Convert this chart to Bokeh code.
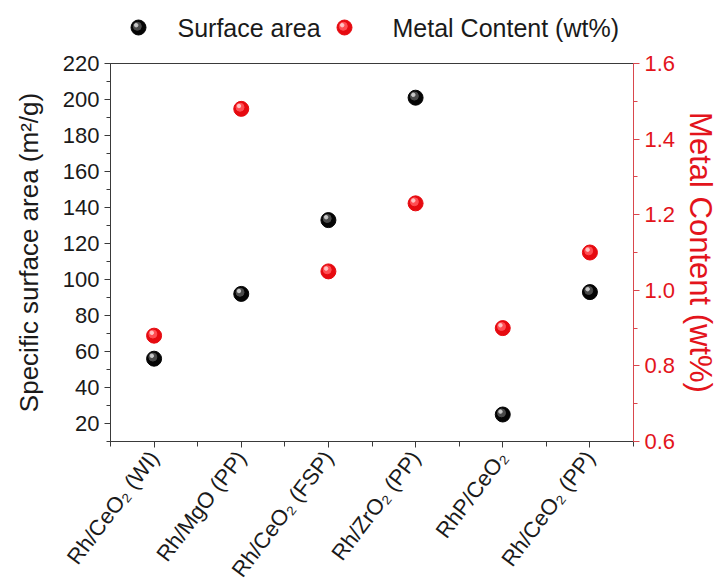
from bokeh.core.properties import value
from bokeh.embed import file_html
from bokeh.layouts import column
from bokeh.models import (ColumnDataSource, FixedTicker, LinearAxis,
                          PrintfTickFormatter, Range1d, SingleIntervalTicker)
from bokeh.plotting import figure
from bokeh.resources import INLINE
from bokeh.transform import dodge

# Catalyst samples and their measured properties
samples = ["Rh/CeO\u2082 (WI)", "Rh/MgO (PP)", "Rh/CeO\u2082 (FSP)",
           "Rh/ZrO\u2082 (PP)", "RhP/CeO\u2082", "Rh/CeO\u2082 (PP)"]
surface_area = [56, 92, 133, 201, 25, 93]             # m2/g
metal_content = [0.88, 1.48, 1.05, 1.23, 0.90, 1.10]  # wt%
series_names = ["Surface area", "Metal Content (wt%)"]

positions = list(range(1, len(samples) + 1))

FONT = "Liberation Sans"
RED = "#e3141c"
INK = "#1a1a1a"
AXIS = "#3a3a3a"
BLACK_BALL = ["#050505", "#4a4a4a", "#c8c8c8"]
RED_BALL = ["#e60a10", "#ff4d52", "#ffc4c4"]

FRAME_LEFT, FRAME_W = 110, 523
KEY_H, TOP_PAD = 43, 20

src = ColumnDataSource(dict(x=positions, area=surface_area, metal=metal_content))

p = figure(frame_width=FRAME_W, frame_height=378,
           output_backend="svg", toolbar_location=None,
           x_range=Range1d(0.5, 6.5), y_range=Range1d(10, 220),
           min_border_left=FRAME_LEFT, min_border_right=91,
           min_border_top=TOP_PAD, min_border_bottom=147)
p.extra_y_ranges = {"metal": Range1d(0.6, 1.6)}

p.grid.visible = False
p.outline_line_color = AXIS
p.outline_line_width = 1
p.background_fill_color = "white"
p.border_fill_color = "white"


def style_ticks(ax, color):
    ax.axis_line_color = color
    ax.major_tick_line_color = color
    ax.minor_tick_line_color = color
    ax.major_tick_in = 0
    ax.major_tick_out = 6
    ax.minor_tick_in = 0
    ax.minor_tick_out = 4


# x axis: one labelled tick per sample, minor ticks half-way between
xa = p.xaxis[0]
xa.ticker = FixedTicker(ticks=positions,
                        minor_ticks=[i + 0.5 for i in range(0, len(samples) + 1)])
xa.major_label_overrides = {i: s for i, s in zip(positions, samples)}
xa.major_label_orientation = 0.92
xa.major_label_text_font = FONT
xa.major_label_text_font_size = "22px"
xa.major_label_text_color = INK
xa.major_label_standoff = 6
style_ticks(xa, AXIS)
xa.minor_tick_out = 5

# left axis: specific surface area
ya = p.yaxis[0]
ya.ticker = SingleIntervalTicker(interval=20, num_minor_ticks=2)
ya.axis_label = "Specific surface area (m\u00b2/g)"
ya.axis_label_text_font = FONT
ya.axis_label_text_font_size = "26px"
ya.axis_label_text_font_style = "normal"
ya.axis_label_text_color = INK
ya.axis_label_standoff = 16
ya.major_label_text_font = FONT
ya.major_label_text_font_size = "22px"
ya.major_label_text_color = INK
style_ticks(ya, AXIS)

# right axis: metal content
ra = LinearAxis(y_range_name="metal")
ra.ticker = SingleIntervalTicker(interval=0.2, num_minor_ticks=2)
ra.formatter = PrintfTickFormatter(format="%.1f")
ra.axis_label = "Metal Content (wt%)"
ra.axis_label_text_font = FONT
ra.axis_label_text_font_size = "31px"
ra.axis_label_text_font_style = "normal"
ra.axis_label_text_color = RED
ra.axis_label_standoff = 5
ra.major_label_text_font = FONT
ra.major_label_text_font_size = "22px"
ra.major_label_text_color = RED
style_ticks(ra, "#d9474d")
p.add_layout(ra, "right")

# shaded spheres: a base disc plus lighter discs nudged up and to the left
dx1, dx2 = -0.014, -0.026
p.scatter("x", "area", source=src, size=15, color=BLACK_BALL[0])
p.scatter(dodge("x", dx1), dodge("area", 0.9), source=src, size=8,
          color=BLACK_BALL[1])
p.scatter(dodge("x", dx2), dodge("area", 1.6), source=src, size=3.5,
          color=BLACK_BALL[2])

p.scatter("x", "metal", source=src, size=15, color=RED_BALL[0],
          y_range_name="metal")
p.scatter(dodge("x", dx1), dodge("metal", 0.0043), source=src, size=8,
          color=RED_BALL[1], y_range_name="metal")
p.scatter(dodge("x", dx2), dodge("metal", 0.0075), source=src, size=3.5,
          color=RED_BALL[2], y_range_name="metal")

# legend strip above the chart; its frame lines up with the chart's frame,
# so its x range is given in page pixels across that frame
key = figure(frame_width=FRAME_W, frame_height=KEY_H, output_backend="svg",
             toolbar_location=None,
             x_range=Range1d(FRAME_LEFT, FRAME_LEFT + FRAME_W),
             y_range=Range1d(KEY_H, 0),
             min_border_left=FRAME_LEFT, min_border_right=91,
             min_border_top=0, min_border_bottom=0, outline_line_color=None)
key.axis.visible = False
key.grid.visible = False
key_src = ColumnDataSource(dict(tx=[177, 392], y=[27, 27], label=series_names))
for mx, ball in zip([138, 344], [BLACK_BALL, RED_BALL]):
    s = ColumnDataSource(dict(x=[mx], y=[27]))
    key.scatter("x", "y", source=s, size=15, color=ball[0])
    key.scatter(dodge("x", -1.2), dodge("y", -1.2), source=s, size=8, color=ball[1])
    key.scatter(dodge("x", -2.3), dodge("y", -2.3), source=s, size=3.5, color=ball[2])
key.text("tx", "y", text="label", source=key_src, text_font=value(FONT),
         text_font_size="25px", text_color=INK, text_baseline="middle",
         text_align="left")

layout = column(key, p, spacing=0)
open("out.html", "w").write(file_html(layout, INLINE))
